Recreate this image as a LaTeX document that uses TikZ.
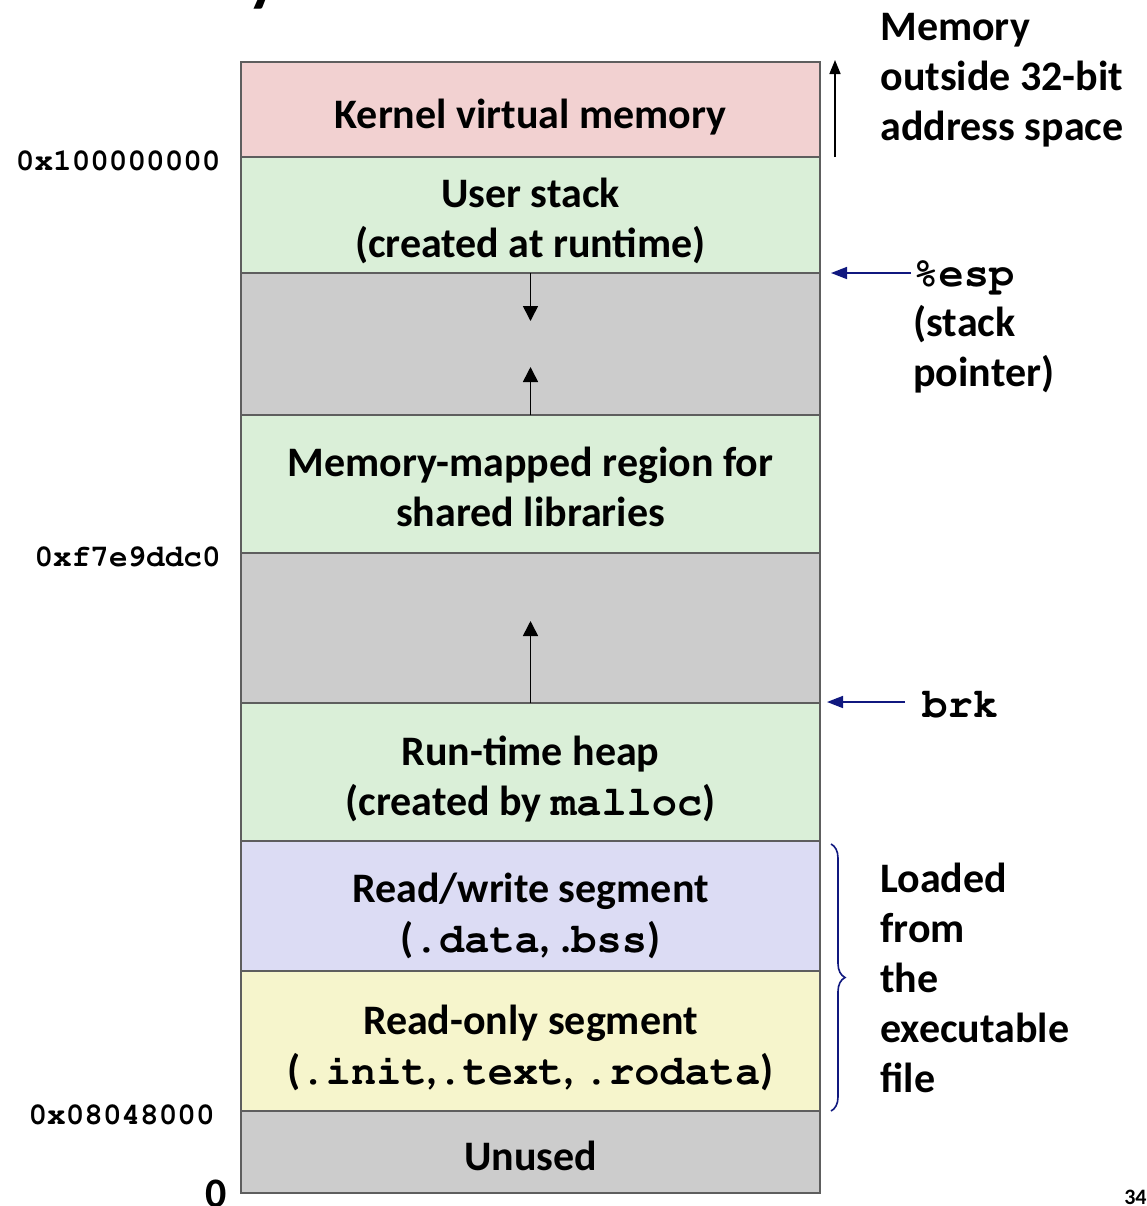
\documentclass[tikz,border=0pt]{standalone}
\usepackage{fontspec}
\setmainfont{Carlito}
\usetikzlibrary{arrows.meta,decorations.pathreplacing}
\definecolor{kpink}{HTML}{F2D1D1}
\definecolor{lgreen}{HTML}{DAEFD8}
\definecolor{mgray}{HTML}{CCCCCC}
\definecolor{lav}{HTML}{DCDCF4}
\definecolor{lyel}{HTML}{F6F5CC}
\definecolor{bordc}{HTML}{5E5E5E}
\definecolor{navyc}{HTML}{10187F}
\newcommand\cour[1]{{\fontencoding{T1}\fontfamily{pcr}\fontseries{b}\fontshape{n}\selectfont #1}}
\newcommand\mainsz{\fontsize{21}{25}\selectfont\bfseries}
\newcommand\addrsz{\fontsize{15.5}{18}\selectfont}
\begin{document}
\begin{tikzpicture}[x=0.5pt,y=-0.5pt,
  region/.style={draw=bordc, line width=0.75pt, minimum width=289.5pt, inner sep=0pt, outer sep=0pt},
  txt/.style={inner sep=0pt, align=center, font=\mainsz},
  lbl/.style={inner sep=0pt, align=left, font=\mainsz, anchor=west},
  addr/.style={inner sep=0pt, font=\addrsz, anchor=east},
  garrow/.style={line width=0.8pt, -{Triangle[width=7.5pt,length=7.5pt]}},
  oarrow/.style={line width=0.8pt, -{Triangle[width=5.5pt,length=7pt]}},
  narrow/.style={draw=navyc, line width=0.8pt, -{Triangle[width=6pt,length=8pt]}, navyc},
  bracestyle/.style={draw=navyc, line width=0.8pt, decorate, decoration={brace, amplitude=7pt}}]
\useasboundingbox (0,0) rectangle (1147,1206);
% partial title glyph
\node[inner sep=0pt, anchor=base, font=\fontsize{34}{36}\selectfont\bfseries] (ttl) at (264,-2) {y};
% regions
\node[region, fill=kpink, minimum height=47.5pt] (kernel) at (530.5,109.5) {};
\node[region, fill=lgreen, minimum height=58pt] (ustack) at (530.5,215) {};
\node[region, fill=mgray, minimum height=71pt] (gap1) at (530.5,344) {};
\node[region, fill=lgreen, minimum height=69pt] (mmap) at (530.5,484) {};
\node[region, fill=mgray, minimum height=75pt] (gap2) at (530.5,628) {};
\node[region, fill=lgreen, minimum height=69pt] (heap) at (530.5,772) {};
\node[region, fill=lav, minimum height=65pt] (rw) at (530.5,906) {};
\node[region, fill=lyel, minimum height=70pt] (ro) at (530.5,1041) {};
\node[region, fill=mgray, minimum height=41pt] (unused) at (530.5,1152) {};
% region texts
\node[txt] (kernel-t) at ([yshift=-4pt]kernel.center) {Kernel virtual memory};
\node[txt] (ustack-t) at ([yshift=-3pt]ustack.center) {User stack\\(created at runtime)};
\node[txt] (mmap-t) at ([yshift=-1.5pt]mmap.center) {Memory-mapped region for\\shared libraries};
\node[txt] (heap-t) at ([yshift=-3.5pt]heap.center) {Run-time heap\\(created by \cour{malloc})};
\node[txt] (rw-t) at ([yshift=-5pt]rw.center) {Read/write segment\\(\cour{.data}, .\cour{bss})};
\node[txt] (ro-t) at ([yshift=-3.5pt]ro.center) {Read-only segment\\(\cour{.init},\cour{.text}, \cour{.rodata})};
\node[txt] (unused-t) at ([yshift=-2pt]unused.center) {Unused};
% growth arrows
\coordinate (d1) at (530.5,321);
\coordinate (u1) at (530.5,367);
\coordinate (u2) at (530.5,621);
\draw[garrow] (gap1.north) -- (d1);
\draw[garrow] (gap1.south) -- (u1);
\draw[garrow] (gap2.south) -- (u2);
% address labels
\node[addr] (a1) at (221,161) {\cour{0x100000000}};
\node[addr] (a2) at (221,557) {\cour{0xf7e9ddc0}};
\node[addr] (a3) at (215,1115) {\cour{0x08048000}};
\node[inner sep=0pt, font=\mainsz, anchor=east] (zero) at (227,1194) {0};
% outside memory
\coordinate (o1) at (835,157);
\coordinate (o2) at (835,60);
\draw[oarrow] (o1) -- (o2);
\node[lbl] (outside) at (880,80) {Memory\\outside 32-bit\\address space};
% esp
\node[lbl] (esp) at (913,327) {\cour{\%esp}\\(stack\\pointer)};
\coordinate (espL) at (911,273);
\coordinate (espP) at (831,273);
\draw[narrow] (espL) -- (espP);
% brk
\node[lbl] (brk) at (922,705) {\cour{brk}};
\coordinate (brkL) at (905,702);
\coordinate (brkP) at (827,702);
\draw[narrow] (brkL) -- (brkP);
% brace
\coordinate (b1) at (831,844);
\coordinate (b2) at (831,1111);
\draw[bracestyle] (b1) -- (b2);
\node[lbl] (loaded) at (880,978) {Loaded\\from\\the\\executable\\file};
% page number
\node[inner sep=0pt, anchor=east, font=\fontsize{11}{12}\selectfont\bfseries] (pg) at (1147,1197) {34};
\end{tikzpicture}
\end{document}
